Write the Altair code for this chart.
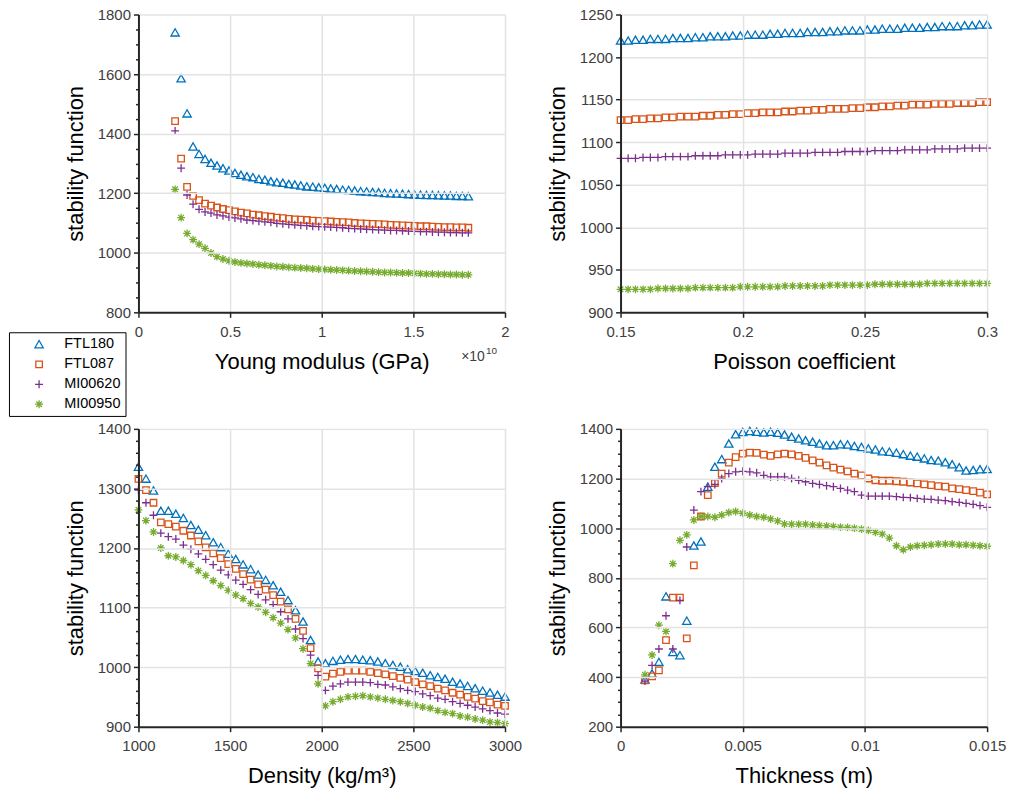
import altair as alt
import pandas as pd

series = ["FTL180", "FTL087", "MI00620", "MI00950"]
colors = ["#0072BD", "#D95319", "#7E2F8E", "#77AC30"]
TRI = "M0,-0.95L1,0.8L-1,0.8Z"
SQ = "M-0.78,-0.78L0.78,-0.78L0.78,0.78L-0.78,0.78Z"
PLUS = "M-0.95,0L0.95,0M0,-0.95L0,0.95"
AST = "M-0.95,0L0.95,0M0,-0.95L0,0.95M-0.67,-0.67L0.67,0.67M-0.67,0.67L0.67,-0.67"
shapes = [TRI, SQ, PLUS, AST]

# ---------------- Panel 1: Young modulus (x in units of 1e10 Pa)
young_x = [0.2000, 0.2327, 0.2653, 0.2980, 0.3306, 0.3633, 0.3959, 0.4286, 0.4612, 0.4939,
           0.5265, 0.5592, 0.5918, 0.6245, 0.6571, 0.6898, 0.7224, 0.7551, 0.7878, 0.8204,
           0.8531, 0.8857, 0.9184, 0.9510, 0.9837, 1.0163, 1.0490, 1.0816, 1.1143, 1.1469,
           1.1796, 1.2122, 1.2449, 1.2776, 1.3102, 1.3429, 1.3755, 1.4082, 1.4408, 1.4735,
           1.5061, 1.5388, 1.5714, 1.6041, 1.6367, 1.6694, 1.7020, 1.7347, 1.7673, 1.8000]
young_FTL180 = [1739, 1585, 1467, 1356, 1331, 1314, 1301, 1292, 1283, 1275,
                1267, 1261, 1256, 1253, 1247, 1244, 1239, 1236, 1234, 1230,
                1228, 1225, 1222, 1221, 1219, 1217, 1215, 1213, 1211, 1210,
                1208, 1206, 1205, 1203, 1202, 1200, 1199, 1198, 1197, 1196,
                1195, 1194, 1193, 1193, 1192, 1191, 1191, 1190, 1190, 1189]
young_FTL087 = [1442, 1316, 1221, 1191, 1177, 1165, 1158, 1152, 1147, 1143,
                1139, 1135, 1132, 1128, 1126, 1123, 1121, 1118, 1116, 1114,
                1112, 1111, 1110, 1108, 1107, 1106, 1105, 1104, 1103, 1102,
                1100, 1099, 1098, 1097, 1096, 1095, 1094, 1093, 1092, 1091,
                1090, 1089, 1089, 1088, 1087, 1086, 1086, 1085, 1085, 1084]
young_MI00620 = [1409, 1284, 1194, 1163, 1146, 1137, 1133, 1127, 1124, 1120,
                 1117, 1114, 1110, 1108, 1106, 1104, 1102, 1099, 1097, 1095,
                 1094, 1092, 1091, 1089, 1088, 1087, 1086, 1085, 1084, 1082,
                 1081, 1080, 1079, 1078, 1077, 1076, 1075, 1075, 1074, 1073,
                 1072, 1071, 1071, 1070, 1069, 1069, 1068, 1068, 1067, 1067]
young_MI00950 = [1213, 1118, 1065, 1044, 1029, 1015, 999, 987, 979, 973,
                 969, 966, 964, 962, 960, 958, 956, 954, 953, 951,
                 950, 949, 948, 946, 945, 944, 943, 942, 941, 940,
                 939, 938, 937, 936, 935, 934, 934, 933, 932, 932,
                 931, 930, 929, 929, 928, 928, 927, 927, 926, 926]

# ---------------- Panel 2: Poisson coefficient
pois_x = [0.1500, 0.1531, 0.1561, 0.1592, 0.1622, 0.1653, 0.1684, 0.1714, 0.1745, 0.1776,
          0.1806, 0.1837, 0.1867, 0.1898, 0.1929, 0.1959, 0.1990, 0.2020, 0.2051, 0.2082,
          0.2112, 0.2143, 0.2173, 0.2204, 0.2235, 0.2265, 0.2296, 0.2327, 0.2357, 0.2388,
          0.2418, 0.2449, 0.2480, 0.2510, 0.2541, 0.2571, 0.2602, 0.2633, 0.2663, 0.2694,
          0.2724, 0.2755, 0.2786, 0.2816, 0.2847, 0.2878, 0.2908, 0.2939, 0.2969, 0.3000]
pois_FTL180 = [1219, 1219, 1220, 1220, 1221, 1221, 1221, 1222, 1222, 1222,
               1223, 1223, 1224, 1224, 1224, 1225, 1225, 1226, 1226, 1226,
               1227, 1227, 1228, 1228, 1228, 1229, 1229, 1229, 1230, 1230,
               1231, 1231, 1231, 1232, 1232, 1233, 1233, 1233, 1234, 1234,
               1234, 1235, 1235, 1236, 1236, 1236, 1237, 1237, 1238, 1238]
pois_FTL087 = [1126, 1126, 1127, 1127, 1128, 1128, 1129, 1129, 1130, 1130,
               1130, 1131, 1131, 1132, 1132, 1133, 1133, 1134, 1134, 1135,
               1135, 1135, 1136, 1136, 1137, 1137, 1138, 1138, 1139, 1139,
               1139, 1140, 1140, 1141, 1141, 1142, 1142, 1143, 1143, 1144,
               1144, 1144, 1145, 1145, 1145, 1146, 1146, 1146, 1147, 1147]
pois_MI00620 = [1081, 1081, 1081, 1082, 1082, 1082, 1083, 1083, 1083, 1083,
                1084, 1084, 1084, 1084, 1085, 1085, 1085, 1085, 1086, 1086,
                1086, 1086, 1087, 1087, 1087, 1087, 1088, 1088, 1088, 1088,
                1089, 1089, 1089, 1089, 1090, 1090, 1090, 1090, 1091, 1091,
                1091, 1091, 1092, 1092, 1092, 1092, 1093, 1093, 1093, 1093]
pois_MI00950 = [927, 927, 927, 927, 927, 928, 928, 928, 928, 928,
                929, 929, 929, 929, 929, 929, 930, 930, 930, 930,
                930, 930, 931, 931, 931, 931, 931, 931, 932, 932,
                932, 932, 932, 932, 933, 933, 933, 933, 933, 933,
                933, 934, 934, 934, 934, 934, 934, 934, 934, 934]

# ---------------- Panel 3: Density
dens_x = [1000, 1041, 1082, 1122, 1163, 1204, 1245, 1286, 1327, 1367,
          1408, 1449, 1490, 1531, 1571, 1612, 1653, 1694, 1735, 1776,
          1816, 1857, 1898, 1939, 1980, 2020, 2061, 2102, 2143, 2184,
          2224, 2265, 2306, 2347, 2388, 2429, 2469, 2510, 2551, 2592,
          2633, 2673, 2714, 2755, 2796, 2837, 2878, 2918, 2959, 3000]
dens_FTL180 = [1336, 1316, 1296, 1262, 1262, 1257, 1250, 1238, 1230, 1221,
               1209, 1201, 1190, 1181, 1172, 1164, 1155, 1146, 1137, 1126,
               1112, 1095, 1076, 1045, 1009, 1006, 1010, 1012, 1013, 1013,
               1012, 1011, 1009, 1006, 1003, 1000, 996, 993, 990, 986,
               983, 980, 975, 972, 968, 964, 960, 957, 953, 950]
dens_FTL087 = [1316, 1297, 1276, 1243, 1240, 1236, 1229, 1221, 1211, 1201,
               1191, 1183, 1173, 1165, 1156, 1147, 1139, 1130, 1121, 1110,
               1097, 1081, 1061, 1032, 998, 984, 989, 992, 994, 994,
               994, 992, 990, 988, 985, 982, 979, 975, 971, 968,
               964, 961, 957, 954, 950, 947, 943, 941, 937, 935]
dens_MI00620 = [1297, 1276, 1255, 1225, 1219, 1215, 1205, 1198, 1190, 1181,
                1172, 1163, 1155, 1146, 1139, 1130, 1122, 1113, 1105, 1093,
                1081, 1064, 1048, 1020, 986, 961, 968, 972, 975, 975,
                975, 974, 971, 970, 967, 964, 961, 959, 955, 952,
                948, 946, 942, 939, 936, 933, 930, 927, 923, 921]
dens_MI00950 = [1264, 1246, 1227, 1200, 1187, 1185, 1179, 1172, 1162, 1154,
                1145, 1137, 1129, 1121, 1115, 1107, 1101, 1092, 1083, 1074,
                1063, 1049, 1031, 1006, 972, 935, 942, 946, 950, 951,
                952, 950, 948, 946, 944, 942, 939, 936, 933, 931,
                927, 924, 922, 918, 916, 913, 911, 908, 907, 905]

# ---------------- Panel 4: Thickness
thick_x = [0.00100, 0.00129, 0.00157, 0.00186, 0.00214, 0.00243, 0.00271, 0.00300, 0.00329, 0.00357,
           0.00386, 0.00414, 0.00443, 0.00471, 0.00500, 0.00529, 0.00557, 0.00586, 0.00614, 0.00643,
           0.00671, 0.00700, 0.00729, 0.00757, 0.00786, 0.00814, 0.00843, 0.00871, 0.00900, 0.00929,
           0.00957, 0.00986, 0.01014, 0.01043, 0.01071, 0.01100, 0.01129, 0.01157, 0.01186, 0.01214,
           0.01243, 0.01271, 0.01300, 0.01329, 0.01357, 0.01386, 0.01414, 0.01443, 0.01471, 0.01500]
thick_FTL180 = [389, 413, 460, 724, 500, 487, 626, 929, 945, 1166,
                1246, 1277, 1340, 1377, 1386, 1390, 1387, 1384, 1387, 1383,
                1376, 1367, 1360, 1353, 1347, 1340, 1333, 1333, 1337, 1336,
                1330, 1326, 1320, 1316, 1309, 1307, 1303, 1297, 1291, 1287,
                1280, 1273, 1271, 1264, 1256, 1244, 1231, 1233, 1236, 1237]
thick_FTL087 = [387, 403, 427, 549, 720, 720, 556, 850, 1047, 1133,
                1182, 1220, 1264, 1286, 1300, 1304, 1303, 1296, 1291, 1297,
                1300, 1297, 1291, 1283, 1273, 1264, 1253, 1244, 1236, 1229,
                1220, 1213, 1200, 1193, 1191, 1191, 1189, 1187, 1184, 1180,
                1176, 1173, 1169, 1167, 1160, 1157, 1153, 1149, 1143, 1136]
thick_MI00620 = [384, 447, 513, 647, 513, 709, 924, 1073, 1147, 1167,
                 1176, 1200, 1220, 1227, 1229, 1227, 1223, 1213, 1207, 1207,
                 1207, 1200, 1193, 1187, 1180, 1176, 1171, 1167, 1160, 1153,
                 1147, 1133, 1129, 1129, 1129, 1129, 1127, 1124, 1123, 1120,
                 1117, 1116, 1113, 1111, 1107, 1104, 1100, 1096, 1091, 1084]
thick_MI00950 = [409, 489, 609, 584, 857, 951, 973, 1033, 1047, 1047,
                 1044, 1053, 1063, 1067, 1060, 1053, 1047, 1044, 1037, 1029,
                 1017, 1016, 1016, 1016, 1013, 1011, 1009, 1007, 1004, 1003,
                 1000, 996, 991, 983, 976, 960, 929, 913, 924, 929,
                 931, 933, 936, 936, 936, 933, 933, 931, 929, 927]

FONT = "Liberation Sans"
W, H = 368, 299
AXC = "#262626"


def make_df(xs, ys_list):
    rows = []
    for name, ys in zip(series, ys_list):
        for xv, yv in zip(xs, ys):
            rows.append({"x": xv, "v": yv, "series": name})
    return pd.DataFrame(rows)


def cond(test, a, b):
    return {"condition": {"test": test, "value": a}, "value": b}


def panel(df, xtitle, xdom, xvals, xfmt, ydom, yvals, major_test):
    legend = alt.Legend(title=None, orient="none", legendX=-130, legendY=319,
                        strokeColor="black", fillColor="white", padding=5,
                        rowPadding=5, symbolSize=70, symbolStrokeWidth=1.3,
                        symbolOffset=18, labelOffset=18, labelFont=FONT,
                        labelFontSize=14.5, labelColor="black",
                        labelExpr="datum.label + '\u00a0\u00a0\u00a0\u00a0\u00a0\u00a0\u00a0'")
    ygrid_test = f"({major_test}) && datum.value !== {ydom[0]}"
    xgrid_test = f"datum.value !== {xdom[0]}"
    return alt.Chart(df).mark_point(filled=False, size=70, strokeWidth=1.3,
                                      opacity=1).encode(
        x=alt.X("x:Q", scale=alt.Scale(domain=xdom, nice=False, zero=False),
                axis=alt.Axis(values=xvals, format=xfmt, title=xtitle,
                              labelFlush=False, domain=True, domainColor=AXC,
                              domainWidth=2, zindex=1,
                              gridOpacity=cond(xgrid_test, 1, 0))),
        y=alt.Y("v:Q", scale=alt.Scale(domain=ydom, nice=False, zero=False),
                axis=alt.Axis(values=yvals, format="d", title="stability function",
                              labelFlush=False, domain=True, domainColor=AXC,
                              domainWidth=2, zindex=1,
                              labelExpr=f"({major_test}) ? datum.label : ''",
                              gridOpacity=cond(ygrid_test, 1, 0),
                              tickSize=cond(major_test, 5, 3))),
        color=alt.Color("series:N", scale=alt.Scale(domain=series, range=colors),
                        legend=legend),
        shape=alt.Shape("series:N", scale=alt.Scale(domain=series, range=shapes),
                        legend=legend),
    ).properties(width=W, height=H)


p1 = panel(make_df(young_x, [young_FTL180, young_FTL087, young_MI00620, young_MI00950]),
           "Young modulus (GPa)", [0, 2], [0, 0.5, 1, 1.5, 2], ".1~f", [800, 1800],
           list(range(800, 1801, 50)), "datum.value % 200 === 0")
sci1 = alt.Chart(pd.DataFrame({"t": ["\u00d710"]})).mark_text(
    align="left", baseline="alphabetic", font=FONT, fontSize=14, color="#404040"
).encode(text="t:N", x=alt.value(324), y=alt.value(348))
sci2 = alt.Chart(pd.DataFrame({"t": ["10"]})).mark_text(
    align="left", baseline="alphabetic", font=FONT, fontSize=10, color="#404040"
).encode(text="t:N", x=alt.value(349), y=alt.value(341))
p1 = alt.layer(p1, sci1, sci2)

p2 = panel(make_df(pois_x, [pois_FTL180, pois_FTL087, pois_MI00620, pois_MI00950]),
           "Poisson coefficient", [0.15, 0.3], [0.15, 0.2, 0.25, 0.3], ".2~f", [900, 1250],
           list(range(900, 1251, 50)), "datum.value % 50 === 0")
p3 = panel(make_df(dens_x, [dens_FTL180, dens_FTL087, dens_MI00620, dens_MI00950]),
           "Density (kg/m\u00b3)", [1000, 3000], [1000, 1500, 2000, 2500, 3000], "d", [900, 1400],
           list(range(900, 1401, 20)), "datum.value % 100 === 0")
p4 = panel(make_df(thick_x, [thick_FTL180, thick_FTL087, thick_MI00620, thick_MI00950]),
           "Thickness (m)", [0, 0.015], [0, 0.005, 0.01, 0.015], ".3~f", [200, 1400],
           list(range(200, 1401, 50)), "datum.value % 200 === 0")

chart = alt.concat(p1, p2, p3, p4, columns=2, spacing={"row": 117, "column": 116},
                   bounds="flush").properties(
    padding={"left": 8, "top": 5, "right": 5, "bottom": 5}
).configure_view(stroke="transparent").configure_axis(
    domainColor=AXC, domainWidth=2, tickColor=AXC, tickWidth=1.5,
    gridColor="#e3e3e3", gridWidth=1.5,
    labelFont=FONT, labelFontSize=15, labelColor="#404040", labelPadding=3,
    labelOverlap=False, labelBound=False,
    titleFont=FONT, titleFontSize=22, titleFontWeight="normal", titleColor="black",
).configure_axisX(labelPadding=7, titlePadding=12).configure_axisY(titlePadding=10)

chart.save("out.html", embed_options={"renderer": "svg", "actions": False})
